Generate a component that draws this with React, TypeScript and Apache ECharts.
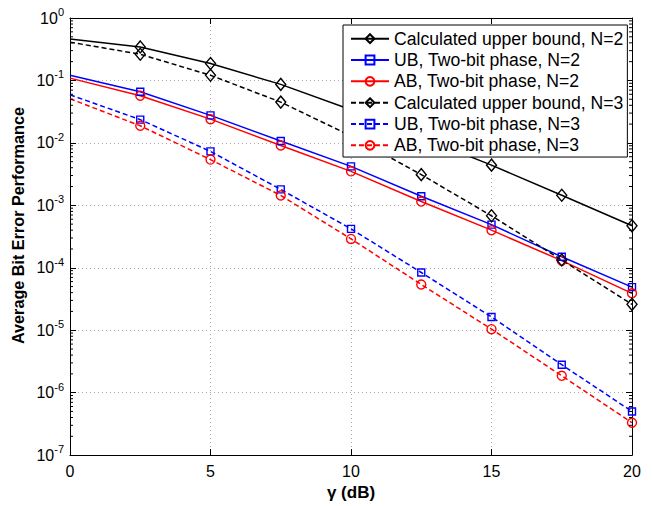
import React, { useEffect, useRef } from "react";
import * as echarts from "echarts";

const X_DB = [0, 2.5, 5, 7.5, 10, 12.5, 15, 17.5, 20];
const CUB_N2 = [0.46, 0.344, 0.187, 0.0865, 0.034, 0.0123, 0.0044, 0.00145, 0.00047];
const UB_N2 = [0.121, 0.066, 0.0276, 0.0107, 0.0042, 0.0014, 0.00049, 0.00015, 0.000049];
const AB_N2 = [0.109, 0.057, 0.024, 0.0091, 0.0035, 0.00115, 0.0004, 0.00013, 0.000039];
const CUB_N3 = [0.41, 0.263, 0.121, 0.045, 0.0129, 0.0031, 0.00068, 0.000133, 0.000026];
const UB_N3 = [0.059, 0.0236, 0.0073, 0.0018, 0.00042, 0.000084, 0.0000163, 0.0000028, 0.0000005];
const AB_N3 = [0.051, 0.0188, 0.0054, 0.00144, 0.00029, 0.000054, 0.0000104, 0.00000186, 0.00000033];

const X_TICKS = [0, 5, 10, 15, 20];
const Y_MIN_EXP = -7;
const Y_MAX_EXP = 0;

const SERIES_NAMES = [
  "Calculated upper bound, N=2",
  "UB, Two-bit phase, N=2",
  "AB, Two-bit phase, N=2",
  "Calculated upper bound, N=3",
  "UB, Two-bit phase, N=3",
  "AB, Two-bit phase, N=3",
];

const FONT = "'Liberation Sans', Arial, Helvetica, sans-serif";

export default function App() {
  const ref = useRef<HTMLDivElement>(null);

  useEffect(() => {
    if (!ref.current) return;
    const chart = echarts.init(ref.current, null, { renderer: "svg" });

    // minor tick values 2..9 x 10^d
    const minorVals: number[] = [];
    for (let d = Y_MIN_EXP; d < Y_MAX_EXP; d++) {
      for (let k = 2; k <= 9; k++) minorVals.push(k * Math.pow(10, d));
    }
    const xMin = X_TICKS[0];
    const xMax = X_TICKS[X_TICKS.length - 1];

    const mk = (
      name: string,
      ys: number[],
      color: string,
      dashed: boolean,
      symbol: string,
      symbolSize: number | number[]
    ) => ({
      name,
      type: "line",
      xAxisIndex: 0,
      yAxisIndex: 0,
      symbol,
      symbolSize,
      showSymbol: true,
      clip: false,
      data: ys.map((y, i) =>
        i === 0 ? { value: [X_DB[i], y], symbol: "none" } : { value: [X_DB[i], y] }
      ),
      lineStyle: { color, width: 1.5, type: dashed ? [5, 3] : "solid" },
      itemStyle: { color: "rgba(0,0,0,0)", borderColor: color, borderWidth: 1.4 },
      emphasis: { disabled: true },
      z: 3,
    });

    const tickStyle = { color: "#000", width: 1 };

    const minorTickSeries = (xVal: number, dir: number) => ({
      type: "custom",
      xAxisIndex: 0,
      yAxisIndex: 0,
      silent: true,
      clip: false,
      z: 4,
      data: minorVals.map((v) => [xVal, v]),
      renderItem: (_params: any, api: any) => {
        const p = api.coord([api.value(0), api.value(1)]);
        return {
          type: "line",
          shape: { x1: p[0], y1: p[1], x2: p[0] + dir * 3, y2: p[1] },
          style: { stroke: "#000", lineWidth: 1 },
        };
      },
    });

    chart.setOption({
      animation: false,
      backgroundColor: "#fff",
      textStyle: { fontFamily: FONT },
      grid: { left: 70, right: 21, top: 18, bottom: 45, containLabel: false },
      legend: {
        orient: "vertical",
        left: 343,
        top: 25,
        padding: [3, 4, 1, 7],
        itemGap: 0,
        itemWidth: 38,
        itemHeight: 11,
        backgroundColor: "#fff",
        borderColor: "#000",
        borderWidth: 1,
        borderRadius: 0,
        data: SERIES_NAMES,
        textStyle: { fontFamily: FONT, fontSize: 17.6, color: "#000", lineHeight: 21.34 },
        z: 10,
      },
      xAxis: [
        {
          type: "value",
          min: xMin,
          max: xMax,
          interval: 5,
          position: "bottom",
          name: "γ (dB)",
          nameLocation: "middle",
          nameGap: 23,
          nameTextStyle: { fontFamily: FONT, fontSize: 17, fontWeight: "bold", color: "#000" },
          axisLine: { show: true, onZero: false, lineStyle: tickStyle },
          axisTick: { show: true, inside: true, length: 6, lineStyle: tickStyle },
          axisLabel: { fontFamily: FONT, fontSize: 16, color: "#000", margin: 8 },
          splitLine: { show: true, lineStyle: { color: "#aaa", width: 1, type: [1, 3] } },
        },
        {
          type: "value",
          min: xMin,
          max: xMax,
          interval: 5,
          position: "top",
          axisLine: { show: true, onZero: false, lineStyle: tickStyle },
          axisTick: { show: true, inside: true, length: 6, lineStyle: tickStyle },
          axisLabel: { show: false },
          splitLine: { show: false },
        },
      ],
      yAxis: [
        {
          type: "log",
          logBase: 10,
          min: Math.pow(10, Y_MIN_EXP),
          max: Math.pow(10, Y_MAX_EXP),
          interval: 1,
          position: "left",
          name: "Average Bit Error Performance",
          nameLocation: "middle",
          nameGap: 38,
          nameTextStyle: {
            fontFamily: FONT,
            fontSize: 16.2,
            fontWeight: "bold",
            color: "#000",
            padding: [0, 0, 0, 22],
          },
          axisLine: { show: true, onZero: false, lineStyle: tickStyle },
          axisTick: { show: true, inside: true, length: 6, lineStyle: tickStyle },
          axisLabel: {
            margin: 6,
            formatter: (v: number) => `{b|10}{s|${Math.round(Math.log10(v))}}`,
            rich: {
              b: { fontFamily: FONT, fontSize: 16, color: "#000" },
              s: { fontFamily: FONT, fontSize: 11, color: "#000", padding: [0, 0, 12, 0] },
            },
          },
          splitLine: { show: true, lineStyle: { color: "#aaa", width: 1, type: [1, 3] } },
        },
        {
          type: "log",
          logBase: 10,
          min: Math.pow(10, Y_MIN_EXP),
          max: Math.pow(10, Y_MAX_EXP),
          interval: 1,
          position: "right",
          axisLine: { show: true, onZero: false, lineStyle: tickStyle },
          axisTick: { show: true, inside: true, length: 6, lineStyle: tickStyle },
          axisLabel: { show: false },
          splitLine: { show: false },
        },
      ],
      series: [
        mk(SERIES_NAMES[0], CUB_N2, "#000000", false, "diamond", [10, 12]),
        mk(SERIES_NAMES[1], UB_N2, "#0000ff", false, "rect", 7),
        mk(SERIES_NAMES[2], AB_N2, "#ff0000", false, "circle", 9),
        mk(SERIES_NAMES[3], CUB_N3, "#000000", true, "diamond", [10, 12]),
        mk(SERIES_NAMES[4], UB_N3, "#0000ff", true, "rect", 7),
        mk(SERIES_NAMES[5], AB_N3, "#ff0000", true, "circle", 9),
        minorTickSeries(xMin, 1),
        minorTickSeries(xMax, -1),
      ],
    });

    return () => chart.dispose();
  }, []);

  return (
    <div
      ref={ref}
      style={{ position: "fixed", left: 0, top: 0, width: 653, height: 506, background: "#fff" }}
    />
  );
}
